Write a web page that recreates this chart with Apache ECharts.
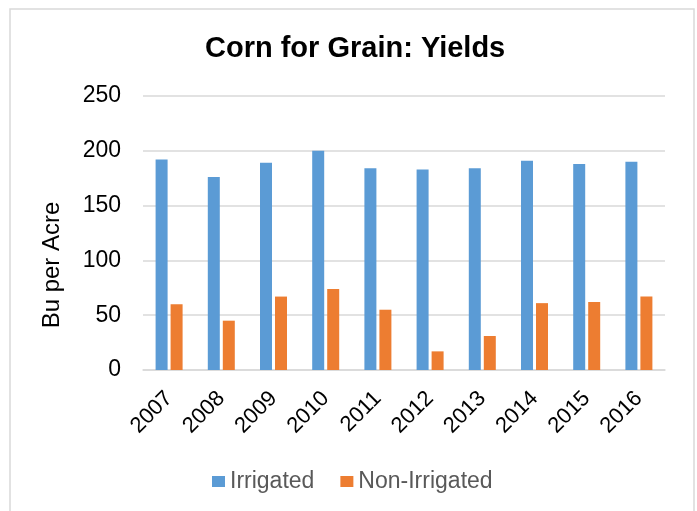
<!DOCTYPE html>
<html>
<head>
<meta charset="utf-8">
<script src="https://cdn.jsdelivr.net/npm/echarts@6/dist/echarts.min.js"></script>
<style>
  html, body { margin: 0; padding: 0; background: #fff; }
  #chart { width: 697px; height: 511px; }
</style>
</head>
<body>
<div id="chart"></div>
<script>
const years = ['2007','2008','2009','2010','2011','2012','2013','2014','2015','2016'];
const irrigated = [192, 176, 189, 200, 184, 183, 184, 191, 188, 190];
const nonIrrigated = [60, 45, 67, 74, 55, 17, 31, 61, 62, 67];
const seriesNames = ['Irrigated', 'Non-Irrigated'];
const titleText = 'Corn for Grain: Yields';
const yAxisTitle = 'Bu per Acre';

const chart = echarts.init(document.getElementById('chart'), null, { renderer: 'canvas' });
const font = 'Liberation Sans, Arial, sans-serif';
chart.setOption({
  animation: false,
  backgroundColor: '#fff',
  title: {
    text: titleText,
    left: 205, top: 34, padding: 0,
    textStyle: { fontFamily: font, fontSize: 29, fontWeight: 'bold', color: '#000' }
  },
  legend: {
    data: seriesNames,
    left: 212, top: 470, padding: 0,
    itemWidth: 13, itemHeight: 11, itemGap: 26,
    icon: 'rect',
    textStyle: { fontFamily: font, fontSize: 23, color: '#595959' }
  },
  grid: { left: 143, right: 32, top: 96, bottom: 141, containLabel: false },
  xAxis: {
    type: 'category',
    data: years,
    axisLine: { lineStyle: { color: '#d9d9d9', width: 1.5 } },
    axisTick: { show: false },
    axisLabel: { rotate: 45, margin: 25, fontFamily: font, fontSize: 22, color: '#000' }
  },
  yAxis: {
    type: 'value',
    min: 0, max: 250, interval: 50,
    axisLine: { show: false },
    axisTick: { show: false },
    splitLine: { lineStyle: { color: '#d9d9d9', width: 1.5 } },
    axisLabel: { margin: 22, fontFamily: font, fontSize: 23, color: '#000' }
  },
  graphic: [
    { type: 'rect', shape: { x: 10, y: 9, width: 684, height: 520 }, style: { fill: 'none', stroke: '#d9d9d9', lineWidth: 1.5 }, silent: true, z: -1 },
    { type: 'text', x: 52, y: 265, rotation: Math.PI / 2,
      style: { text: yAxisTitle, align: 'center', verticalAlign: 'middle', fontFamily: font, fontSize: 24, fill: '#000' } }
  ],
  series: [
    { name: seriesNames[0], type: 'bar', data: irrigated, barWidth: 12, barGap: '25%', itemStyle: { color: '#5B9BD5' } },
    { name: seriesNames[1], type: 'bar', data: nonIrrigated, barWidth: 12, barGap: '25%', itemStyle: { color: '#ED7D31' } }
  ]
});
</script>
</body>
</html>
